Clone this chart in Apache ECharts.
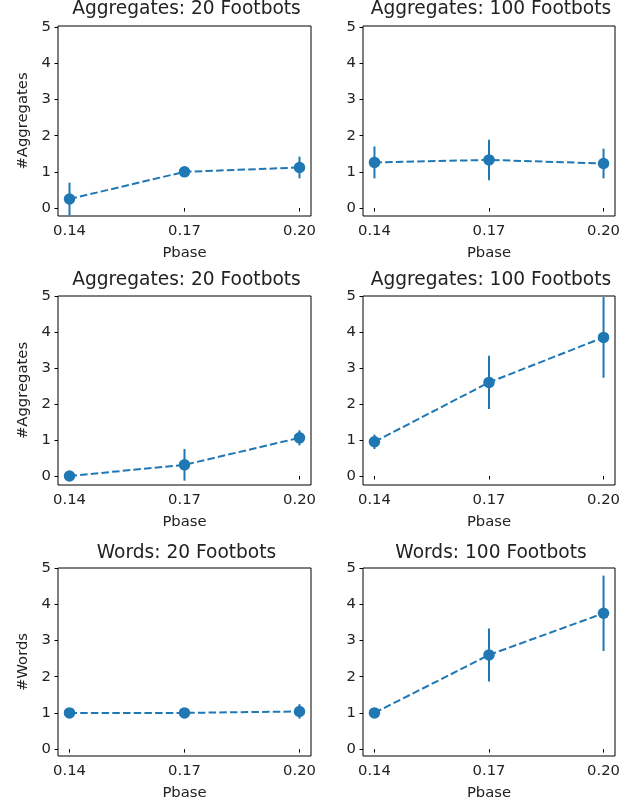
<!DOCTYPE html>
<html>
<head>
<meta charset="utf-8">
<script src="https://cdn.jsdelivr.net/npm/echarts@6/dist/echarts.min.js"></script>
<style>
html,body{margin:0;padding:0;background:#fff;}
#c{width:643px;height:809px;}
</style>
</head>
<body>
<div id="c"></div>
<script>
// ---- data ----
const xValues = [0.14, 0.17, 0.20];
const xTickLabels = ['0.14', '0.17', '0.20'];
const yTicks = [0, 1, 2, 3, 4, 5];

const titles = ['Aggregates: 20 Footbots', 'Aggregates: 100 Footbots',
                'Aggregates: 20 Footbots', 'Aggregates: 100 Footbots',
                'Words: 20 Footbots', 'Words: 100 Footbots'];
const yLabels = ['#Aggregates', '', '#Aggregates', '', '#Words', ''];
const xLabel = 'Pbase';

const aggr20Top = [0.25, 1.00, 1.12];
const aggr20TopErr = [0.45, 0.00, 0.30];
const aggr100Top = [1.26, 1.33, 1.23];
const aggr100TopErr = [0.44, 0.56, 0.41];
const aggr20Mid = [0.00, 0.31, 1.06];
const aggr20MidErr = [0.00, 0.44, 0.21];
const aggr100Mid = [0.95, 2.60, 3.85];
const aggr100MidErr = [0.20, 0.74, 1.12];
const words20 = [1.00, 1.00, 1.04];
const words20Err = [0.00, 0.00, 0.20];
const words100 = [1.00, 2.60, 3.75];
const words100Err = [0.00, 0.73, 1.04];

const panelValues = [aggr20Top, aggr100Top, aggr20Mid, aggr100Mid, words20, words100];
const panelErrors = [aggr20TopErr, aggr100TopErr, aggr20MidErr, aggr100MidErr, words20Err, words100Err];

// ---- layout ----
const colLeft = [58, 363];
const colWidth = [253, 252];
const rowTop = [26, 296, 568];
const rowHeight = [190, 189, 188];
const rowYMin = [-0.22, -0.25, -0.19];
const rowYMax = [5.03, 5.0, 5.0];
const titleTop = [-5, 266, 539];

const color = '#1f77b4';
const textColor = '#222';
const font = 'DejaVu Sans';

const grids = [], xAxes = [], yAxes = [], series = [], titleComps = [];
for (let i = 0; i < 6; i++) {
  const r = Math.floor(i / 2), c = i % 2;
  grids.push({
    left: colLeft[c], top: rowTop[r], width: colWidth[c], height: rowHeight[r],
    show: true, borderColor: '#000', borderWidth: 1, backgroundColor: 'transparent',
    containLabel: false
  });
  xAxes.push({
    type: 'value', gridIndex: i, min: 0.137, max: 0.203,
    splitLine: { show: false },
    axisLine: { show: false },
    axisTick: { show: true, inside: false, length: 3.5, lineStyle: { color: '#000', width: 1 }, customValues: xValues },
    axisLabel: { color: textColor, fontFamily: font, fontSize: 14.8, margin: 8,
      customValues: xValues, formatter: v => xTickLabels[xValues.indexOf(+v.toFixed(2))] || v.toFixed(2) },
    name: xLabel, nameLocation: 'middle', nameGap: 30,
    nameTextStyle: { color: textColor, fontFamily: font, fontSize: 14.8 }
  });
  yAxes.push({
    type: 'value', gridIndex: i, min: rowYMin[r], max: rowYMax[r],
    splitLine: { show: false },
    axisLine: { show: false },
    axisTick: { show: true, inside: false, length: 3.5, lineStyle: { color: '#000', width: 1 }, customValues: yTicks },
    axisLabel: { color: textColor, fontFamily: font, fontSize: 14.8, margin: 7, customValues: yTicks,
      formatter: v => String(Math.round(v)) },
    name: yLabels[i], nameLocation: 'middle', nameGap: 27, nameRotate: 90,
    nameTextStyle: { color: textColor, fontFamily: font, fontSize: 14.8 }
  });
  titleComps.push({
    text: titles[i], left: colLeft[c] + colWidth[c] / 2 - 3, top: titleTop[r], textAlign: 'center',
    textStyle: { color: textColor, fontFamily: font, fontSize: 18.6, fontWeight: 'normal' }
  });
  const vals = panelValues[i], errs = panelErrors[i];
  series.push({
    type: 'custom', xAxisIndex: i, yAxisIndex: i, clip: true, z: 2,
    data: xValues.map((x, k) => [x, vals[k], errs[k]]),
    renderItem: (params, api) => {
      const x = api.value(0), y = api.value(1), e = api.value(2);
      const p1 = api.coord([x, y - e]), p2 = api.coord([x, y + e]);
      return { type: 'line', shape: { x1: p1[0], y1: p1[1], x2: p2[0], y2: p2[1] },
        style: { stroke: color, lineWidth: 2 } };
    }
  });
  series.push({
    type: 'line', xAxisIndex: i, yAxisIndex: i, z: 3,
    data: xValues.map((x, k) => [x, vals[k]]),
    symbol: 'circle', symbolSize: 11.5, showSymbol: true,
    itemStyle: { color: color },
    lineStyle: { color: color, width: 2, type: [7.5, 3.2] },
    emphasis: { disabled: true }
  });
}

const chart = echarts.init(document.getElementById('c'), null, { renderer: 'canvas' });
chart.setOption({
  animation: false,
  backgroundColor: '#fff',
  title: titleComps,
  grid: grids,
  xAxis: xAxes,
  yAxis: yAxes,
  series: series
});
</script>
</body>
</html>
